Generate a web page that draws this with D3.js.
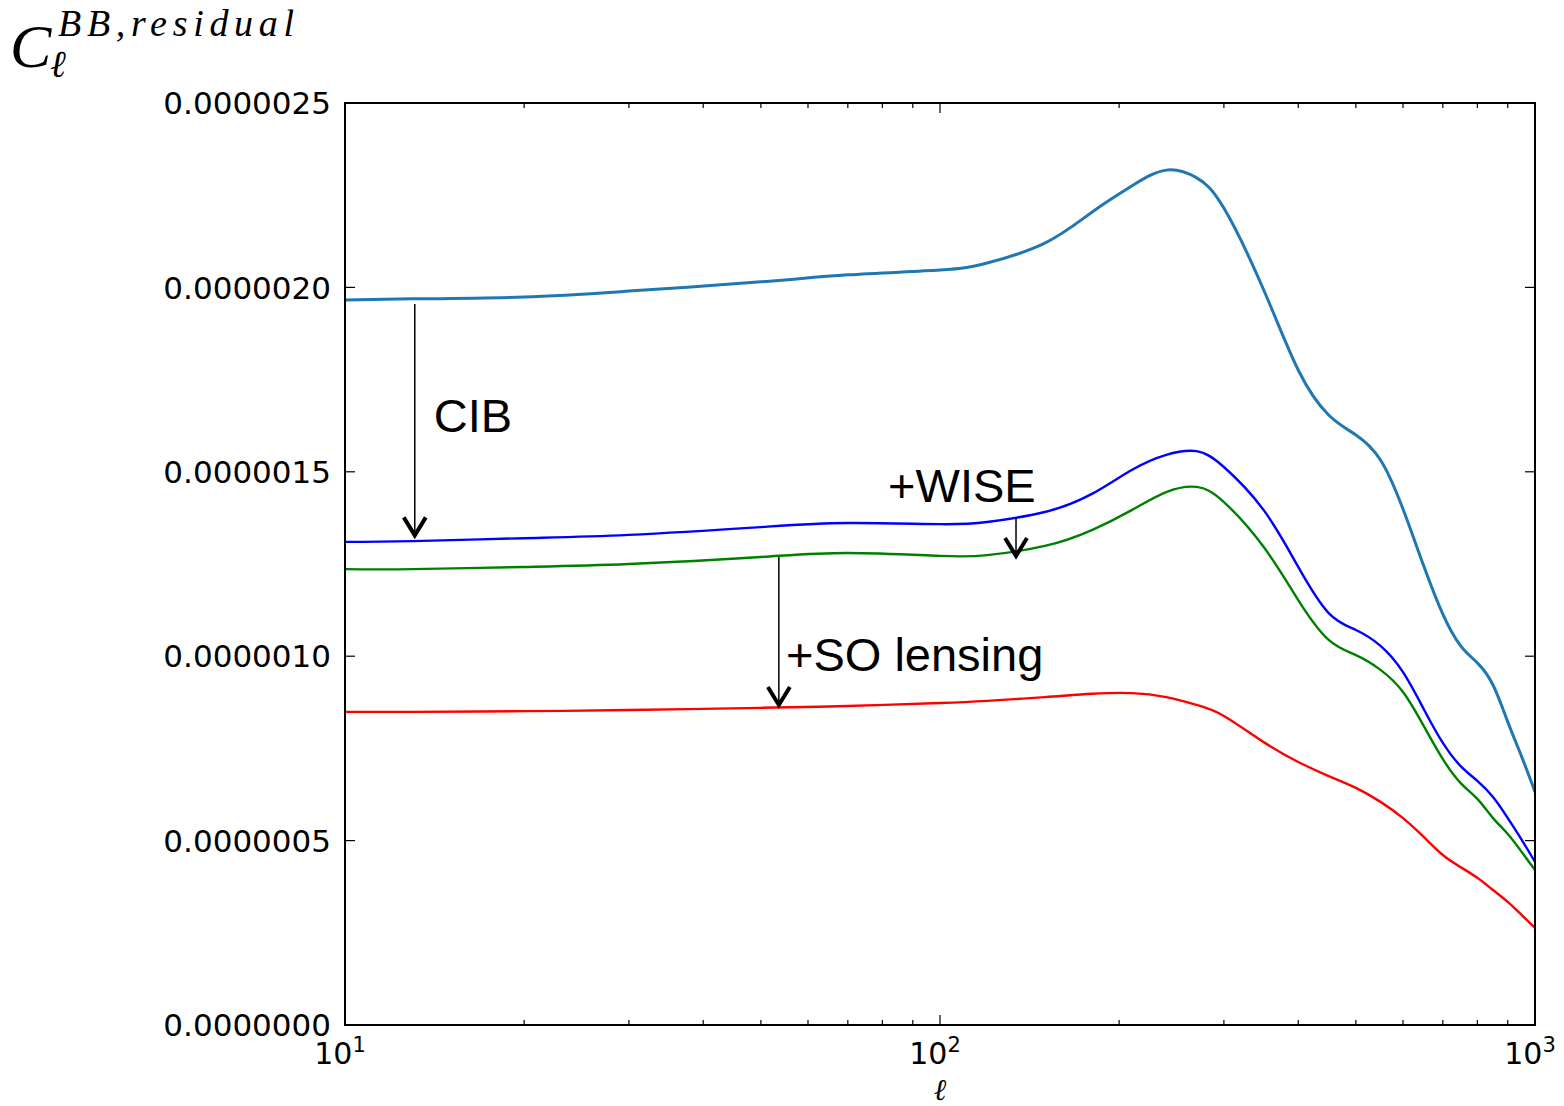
<!DOCTYPE html>
<html>
<head>
<meta charset="utf-8">
<script src="https://cdn.jsdelivr.net/npm/d3@7"></script>
<style>
  body { margin: 0; background: #ffffff; }
  svg { display: block; }
</style>
</head>
<body>
<svg id="chart" width="1564" height="1106"></svg>
<script>
// Multipoles at which the residual BB spectra are sampled
const ell = [10, 13, 20, 30, 50, 70, 100, 120, 150, 180, 210, 240, 270, 300,
             350, 400, 450, 500, 550, 600, 650, 700, 750, 800, 850, 900, 950, 1000];

// Residual C_l^BB (units of 1e-6) for successive delensing tracer combinations
const residualNoDelensing = [1.966, 1.969, 1.974, 1.990, 2.015, 2.034, 2.047, 2.066, 2.120, 2.204,
                             2.275, 2.318, 2.297, 2.215, 1.993, 1.776, 1.654, 1.600, 1.532, 1.399,
                             1.245, 1.114, 1.028, 0.982, 0.922, 0.822, 0.727, 0.632];
const residualCIB = [1.310, 1.312, 1.320, 1.329, 1.350, 1.361, 1.358, 1.364, 1.391, 1.440,
                     1.505, 1.546, 1.556, 1.513, 1.396, 1.242, 1.117, 1.071, 1.028, 0.957,
                     0.857, 0.765, 0.702, 0.662, 0.618, 0.561, 0.502, 0.442];
const residualCIBWISE = [1.236, 1.236, 1.242, 1.250, 1.269, 1.280, 1.272, 1.274, 1.299, 1.342,
                         1.396, 1.445, 1.459, 1.418, 1.296, 1.152, 1.044, 1.003, 0.963, 0.903,
                         0.811, 0.721, 0.656, 0.613, 0.561, 0.518, 0.469, 0.420];
const residualCIBWISESO = [0.849, 0.849, 0.851, 0.854, 0.860, 0.865, 0.873, 0.879, 0.889, 0.898,
                           0.900, 0.889, 0.868, 0.838, 0.767, 0.713, 0.675, 0.643, 0.605, 0.561,
                           0.510, 0.461, 0.428, 0.399, 0.366, 0.334, 0.298, 0.263];

const seriesColors = ["#1f77b4", "#0000ff", "#008000", "#ff0000"];

// Axis ticks
const yTickValues = [0, 0.5e-6, 1.0e-6, 1.5e-6, 2.0e-6, 2.5e-6];
const xMajorTicks = [10, 100, 1000];
const xMajorExponents = ["1", "2", "3"];
const xMinorTicks = [20, 30, 40, 50, 60, 70, 80, 90, 200, 300, 400, 500, 600, 700, 800, 900];

// Annotations: arrows [ell, from value, to value] and labels [text, ell, value]
const arrowEll = [13.1, 134.2, 53.6];
const arrowFrom = [1.955e-6, 1.375e-6, 1.269e-6];
const arrowTo = [1.325e-6, 1.269e-6, 0.865e-6];
const labelText = ["CIB", "+WISE", "+SO lensing"];
const labelEll = [14.1, 81.8, 55.1];
const labelValue = [1.608e-6, 1.418e-6, 0.960e-6];

(function draw() {
  const svg = d3.select("#chart");
  const m = { left: 345, right: 1535, top: 103, bottom: 1025 };

  const x = d3.scaleLog().domain([10, 1000]).range([m.left, m.right]);
  const y = d3.scaleLinear().domain([0, 2.5e-6]).range([m.bottom, m.top]);

  // Curves
  const allSeries = [residualNoDelensing, residualCIB, residualCIBWISE, residualCIBWISESO];
  const line = d3.line()
    .x(d => x(d[0]))
    .y(d => y(d[1] * 1e-6))
    .curve(d3.curveNatural);

  svg.append("clipPath").attr("id", "clip")
    .append("rect").attr("x", m.left).attr("y", m.top)
    .attr("width", m.right - m.left).attr("height", m.bottom - m.top);

  const plot = svg.append("g").attr("clip-path", "url(#clip)");
  allSeries.forEach((vals, i) => {
    plot.append("path")
      .datum(ell.map((l, j) => [l, vals[j]]))
      .attr("fill", "none")
      .attr("stroke", seriesColors[i])
      .attr("stroke-width", i === 0 ? 3 : 2.4)
      .attr("d", line);
  });

  // Frame
  svg.append("rect")
    .attr("x", m.left).attr("y", m.top)
    .attr("width", m.right - m.left).attr("height", m.bottom - m.top)
    .attr("fill", "none").attr("stroke", "#000").attr("stroke-width", 2);

  // Inward ticks on all sides
  const tickG = svg.append("g").attr("stroke", "#000").attr("stroke-width", 1.2);
  yTickValues.forEach(v => {
    tickG.append("line").attr("x1", m.left).attr("x2", m.left + 10).attr("y1", y(v)).attr("y2", y(v));
    tickG.append("line").attr("x1", m.right).attr("x2", m.right - 10).attr("y1", y(v)).attr("y2", y(v));
  });
  xMajorTicks.forEach(v => {
    tickG.append("line").attr("x1", x(v)).attr("x2", x(v)).attr("y1", m.bottom).attr("y2", m.bottom - 10);
    tickG.append("line").attr("x1", x(v)).attr("x2", x(v)).attr("y1", m.top).attr("y2", m.top + 10);
  });
  xMinorTicks.forEach(v => {
    tickG.append("line").attr("x1", x(v)).attr("x2", x(v)).attr("y1", m.bottom).attr("y2", m.bottom - 5);
    tickG.append("line").attr("x1", x(v)).attr("x2", x(v)).attr("y1", m.top).attr("y2", m.top + 5);
  });

  // Tick labels
  const tickFont = "'DejaVu Sans', sans-serif";
  const fmt = d3.format(".7f");
  svg.append("g").selectAll("text").data(yTickValues).join("text")
    .attr("x", m.left - 14)
    .attr("y", d => y(d))
    .attr("dy", "0.36em")
    .attr("text-anchor", "end")
    .attr("font-family", tickFont)
    .attr("font-size", 31)
    .attr("fill", "#000")
    .text(d => fmt(d));

  xMajorTicks.forEach((v, i) => {
    const t = svg.append("text")
      .attr("x", x(v) - 5)
      .attr("y", m.bottom + 39)
      .attr("text-anchor", "middle")
      .attr("font-family", tickFont)
      .attr("font-size", 30)
      .attr("fill", "#000");
    t.append("tspan").text("10");
    t.append("tspan").attr("font-size", 21).attr("dy", -12).text(xMajorExponents[i]);
  });

  // Axis labels
  svg.append("text")
    .attr("x", 940).attr("y", 1100)
    .attr("text-anchor", "middle")
    .attr("font-family", "'DejaVu Serif', serif")
    .attr("font-style", "italic")
    .attr("font-size", 30)
    .text("ℓ");

  const yl = svg.append("g")
    .attr("font-family", "'Liberation Serif', 'DejaVu Serif', serif")
    .attr("font-style", "italic")
    .attr("fill", "#000");
  yl.append("text").attr("x", 10).attr("y", 67).attr("font-size", 62).text("C");
  yl.append("text").attr("x", 50).attr("y", 77).attr("font-size", 38).text("ℓ");
  yl.append("text").attr("x", 58).attr("y", 36).attr("font-size", 38)
    .attr("textLength", 236).attr("lengthAdjust", "spacing").text("BB,residual");

  // Annotation arrows
  const ann = svg.append("g");
  arrowEll.forEach((l, i) => {
    const ax = x(l), y0 = y(arrowFrom[i]), y1 = y(arrowTo[i]);
    ann.append("line")
      .attr("x1", ax).attr("x2", ax).attr("y1", y0).attr("y2", y1 - 1)
      .attr("stroke", "#000").attr("stroke-width", 1.5);
    ann.append("path")
      .attr("d", `M${ax - 11},${y1 - 19} L${ax},${y1 - 1} L${ax + 11},${y1 - 19}`)
      .attr("fill", "none").attr("stroke", "#000").attr("stroke-width", 4)
      .attr("stroke-linejoin", "miter");
  });

  // Annotation labels
  labelText.forEach((t, i) => {
    ann.append("text")
      .attr("x", x(labelEll[i])).attr("y", y(labelValue[i]))
      .attr("font-family", "'Liberation Sans', Arial, sans-serif")
      .attr("font-size", 47)
      .attr("fill", "#000")
      .text(t);
  });
})();
</script>
</body>
</html>
